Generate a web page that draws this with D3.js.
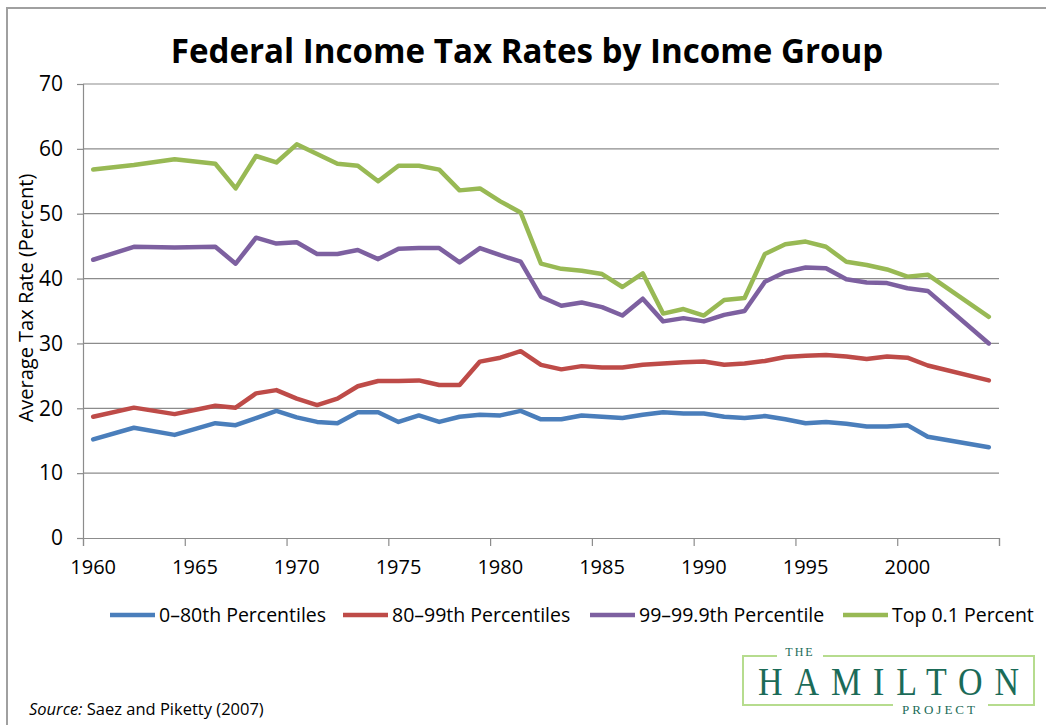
<!DOCTYPE html>
<html>
<head>
<meta charset="utf-8">
<script src="https://cdn.jsdelivr.net/npm/d3@7"></script>
<style>
  body { margin: 0; background: #fff; }
  text { font-family: "Open Sans", Lato, sans-serif; }
</style>
</head>
<body>
<div id="chart"></div>
<script>
// data
var years = [1960, 1962, 1964, 1966,
  1967, 1968, 1969, 1970, 1971, 1972, 1973, 1974, 1975, 1976, 1977, 1978, 1979, 1980, 1981,
  1982, 1983, 1984, 1985, 1986, 1987, 1988, 1989, 1990, 1991, 1992, 1993, 1994, 1995, 1996, 1997, 1998, 1999, 2000, 2001,
  2004];
var bottom80 = [15.2, 17.0, 15.9, 17.7,
  17.4, 18.5, 19.6, 18.6, 17.9, 17.7, 19.4, 19.4, 17.9, 18.9, 17.9, 18.7, 19.0, 18.9, 19.6,
  18.3, 18.3, 18.9, 18.7, 18.5, 19.0, 19.4, 19.2, 19.2, 18.7, 18.5, 18.8, 18.3, 17.7, 17.9, 17.6, 17.2, 17.2, 17.4, 15.6,
  14.0];
var p80to99 = [18.7, 20.1, 19.1, 20.4,
  20.1, 22.3, 22.8, 21.5, 20.5, 21.5, 23.4, 24.2, 24.2, 24.3, 23.6, 23.6, 27.2, 27.8, 28.8,
  26.7, 26.0, 26.5, 26.3, 26.3, 26.7, 26.9, 27.1, 27.2, 26.7, 26.9, 27.3, 27.9, 28.1, 28.2, 28.0, 27.6, 28.0, 27.8, 26.6,
  24.3];
var p99to999 = [42.9, 44.9, 44.8, 44.9,
  42.3, 46.3, 45.4, 45.6, 43.8, 43.8, 44.4, 43.0, 44.6, 44.7, 44.7, 42.5, 44.7, 43.6, 42.6,
  37.2, 35.8, 36.3, 35.6, 34.3, 36.9, 33.4, 33.9, 33.4, 34.4, 35.0, 39.5, 41.0, 41.7, 41.6, 39.9, 39.4, 39.3, 38.5, 38.1,
  30.0];
var top01 = [56.8, 57.5, 58.4, 57.7,
  53.9, 58.9, 57.9, 60.7, 59.2, 57.7, 57.4, 55.0, 57.4, 57.4, 56.8, 53.6, 53.9, 51.9, 50.2,
  42.3, 41.5, 41.2, 40.7, 38.7, 40.8, 34.6, 35.3, 34.3, 36.7, 37.0, 43.8, 45.3, 45.7, 44.9, 42.6, 42.1, 41.4, 40.3, 40.6,
  34.1];
var seriesNames = ['0\u201380th Percentiles', '80\u201399th Percentiles', '99\u201399.9th Percentile', 'Top 0.1 Percent'];
var seriesColors = ['#4a7ebb', '#be4b48', '#7d60a0', '#98b954'];
var xTicks = [1960, 1965, 1970, 1975, 1980, 1985, 1990, 1995, 2000, 2005];
var xLabels = [1960, 1965, 1970, 1975, 1980, 1985, 1990, 1995, 2000];
var yTicks = [0, 10, 20, 30, 40, 50, 60, 70];

var allSeries = [bottom80, p80to99, p99to999, top01];

var width = 1046, height = 725;
var margin = {top: 84, right: 47, bottom: 187, left: 83};

var svg = d3.select('#chart').append('svg')
  .attr('width', width)
  .attr('height', height);

// outer frame (top and left edges visible)
svg.append('path')
  .attr('d', 'M7,725 V8 H1046')
  .attr('fill', 'none')
  .attr('stroke', '#a0a0a0')
  .attr('stroke-width', 2);

var x = d3.scaleLinear().domain([1960, 2005]).range([margin.left, width - margin.right]);
var y = d3.scaleLinear().domain([0, 70]).range([height - margin.bottom, margin.top]);

// title, squeezed to the width it has in the picture
var title = svg.append('text')
  .attr('x', 527)
  .attr('y', 63)
  .attr('text-anchor', 'middle')
  .style('font-weight', 'bold')
  .style('font-size', '34px')
  .text('Federal Income Tax Rates by Income Group');
var tw = title.node().getComputedTextLength();
title.style('font-size', (34 * 713 / tw) + 'px');

// gridlines
svg.append('g')
  .selectAll('line')
  .data(yTicks.filter(function(d) { return d > 0; }))
  .enter().append('line')
  .attr('x1', x(1960))
  .attr('x2', x(2005))
  .attr('y1', function(d) { return y(d); })
  .attr('y2', function(d) { return y(d); })
  .attr('stroke', '#8c8c8c')
  .attr('stroke-width', 1.2);

// y axis
var yAxis = svg.append('g')
  .attr('transform', 'translate(' + x(1960) + ',0)')
  .call(d3.axisLeft(y).tickValues(yTicks).tickSize(6).tickPadding(14));
yAxis.select('.domain').attr('stroke', '#8c8c8c').attr('stroke-width', 1.2);
yAxis.selectAll('.tick line').attr('stroke', '#8c8c8c').attr('stroke-width', 1.2);
yAxis.selectAll('.tick text')
  .style('font-family', '"Open Sans", sans-serif')
  .style('font-size', '21px')
  .style('fill', '#000');

// x axis: tick marks on the year boundaries, labels sit mid-year like the data
var xAxis = svg.append('g')
  .attr('transform', 'translate(0,' + y(0) + ')')
  .call(d3.axisBottom(x).tickValues(xTicks).tickFormat('').tickSize(8));
xAxis.select('.domain').attr('stroke', '#8c8c8c').attr('stroke-width', 1.2);
xAxis.selectAll('.tick line').attr('stroke', '#8c8c8c').attr('stroke-width', 1.2);

svg.append('g')
  .selectAll('text')
  .data(xLabels)
  .enter().append('text')
  .attr('x', function(d) { return x(d + 0.5); })
  .attr('y', y(0) + 36)
  .attr('text-anchor', 'middle')
  .style('font-size', '20px')
  .style('fill', '#000')
  .text(function(d) { return d; });

// y axis title
svg.append('text')
  .attr('transform', 'translate(33,298) rotate(-90)')
  .attr('text-anchor', 'middle')
  .style('font-size', '20px')
  .style('fill', '#000')
  .text('Average Tax Rate (Percent)');

// lines, plotted at mid-year
var line = d3.line()
  .x(function(d) { return x(d.year + 0.5); })
  .y(function(d) { return y(d.value); });

allSeries.forEach(function(values, i) {
  var pts = years.map(function(yr, j) { return {year: yr, value: values[j]}; });
  svg.append('path')
    .datum(pts)
    .attr('d', line)
    .attr('fill', 'none')
    .attr('stroke', seriesColors[i])
    .attr('stroke-width', 4.5)
    .attr('stroke-linejoin', 'round')
    .attr('stroke-linecap', 'round');
});

// legend
var legendX = [110, 343, 590, 843];
var legend = svg.selectAll('.legend')
  .data(seriesNames)
  .enter().append('g')
  .attr('class', 'legend')
  .attr('transform', function(d, i) { return 'translate(' + legendX[i] + ',615)'; });

legend.append('line')
  .attr('x1', 0).attr('x2', 45)
  .attr('y1', 0).attr('y2', 0)
  .attr('stroke', function(d, i) { return seriesColors[i]; })
  .attr('stroke-width', 4.5);

legend.append('text')
  .attr('x', 49)
  .attr('y', 7)
  .style('font-size', '19.5px')
  .style('fill', '#000')
  .text(function(d) { return d; });

// source note
var src = svg.append('text')
  .attr('x', 29)
  .attr('y', 715)
  .style('font-size', '16.5px')
  .style('fill', '#000');
src.append('tspan').style('font-style', 'italic').text('Source:');
src.append('tspan').text(' Saez and Piketty (2007)');

// Hamilton Project logo
var logo = svg.append('g');
var logoGreen = '#1b6b58';
var serif = '"Liberation Serif", "DejaVu Serif", serif';
logo.append('rect')
  .attr('x', 743).attr('y', 656)
  .attr('width', 291).attr('height', 49)
  .attr('fill', 'none')
  .attr('stroke', '#b6dc8e')
  .attr('stroke-width', 2);
// gaps in the border behind the small words
logo.append('rect').attr('x', 777).attr('y', 648).attr('width', 46).attr('height', 12).attr('fill', '#fff');
logo.append('rect').attr('x', 893).attr('y', 699).attr('width', 95).attr('height', 12).attr('fill', '#fff');

logo.append('text')
  .attr('x', 800).attr('y', 655.5)
  .attr('text-anchor', 'middle')
  .style('font-family', serif)
  .style('font-size', '12px')
  .style('letter-spacing', '2px')
  .style('fill', logoGreen)
  .text('THE');
// serif word stretched upward
logo.append('text')
  .attr('transform', 'translate(758,695) scale(1,1.2)')
  .attr('x', 0).attr('y', 0)
  .attr('textLength', 261)
  .attr('lengthAdjust', 'spacing')
  .style('font-family', serif)
  .style('font-size', '34px')
  .style('fill', logoGreen)
  .text('HAMILTON');
logo.append('text')
  .attr('x', 940).attr('y', 714)
  .attr('text-anchor', 'middle')
  .style('font-family', serif)
  .style('font-size', '13px')
  .style('letter-spacing', '3px')
  .style('fill', logoGreen)
  .text('PROJECT');
</script>
</body>
</html>
